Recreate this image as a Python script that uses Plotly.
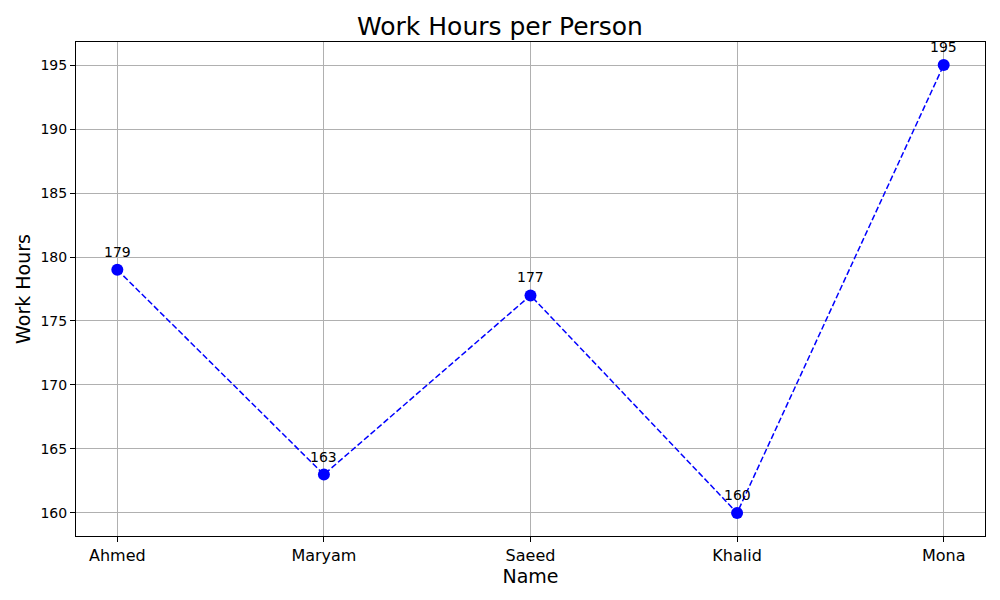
import plotly.graph_objects as go

names = ["Ahmed", "Maryam", "Saeed", "Khalid", "Mona"]
hours = [179, 163, 177, 160, 195]
y_ticks = [160, 165, 170, 175, 180, 185, 190, 195]

fig = go.Figure()
fig.add_trace(go.Scatter(
    x=names, y=hours,
    mode="lines+markers",
    line=dict(color="blue", dash="6px,2.6px", width=1.5),
    marker=dict(color="blue", size=12),
    showlegend=False,
))

# value labels above each point
for n, h in zip(names, hours):
    fig.add_annotation(x=n, y=h, text=str(h), showarrow=False,
                       yshift=18, font=dict(size=14, color="black"))

fig.update_layout(
    width=984, height=584,
    paper_bgcolor="white", plot_bgcolor="white",
    margin=dict(l=68, r=7, t=34, b=56),
    font=dict(family="DejaVu Sans", color="black"),
    title=dict(text="Work Hours per Person", x=0.5, xanchor="center",
               y=0.969, yanchor="middle", font=dict(size=25)),
)
fig.update_xaxes(
    title=dict(text="Name", font=dict(size=19), standoff=4),
    tickfont=dict(size=16),
    range=[-0.2, 4.2],
    showgrid=True, gridcolor="#b0b0b0", gridwidth=1,
    showline=True, linecolor="black", linewidth=1, mirror=True,
    ticks="outside", ticklen=5, tickcolor="black",
)
fig.update_yaxes(
    title=dict(text="Work Hours", font=dict(size=19), standoff=4),
    tickfont=dict(size=14),
    range=[158.2, 196.8],
    tickvals=y_ticks,
    showgrid=True, gridcolor="#b0b0b0", gridwidth=1,
    showline=True, linecolor="black", linewidth=1, mirror=True,
    ticks="outside", ticklen=5, tickcolor="black",
    zeroline=False,
)

fig.write_html("out.html")
